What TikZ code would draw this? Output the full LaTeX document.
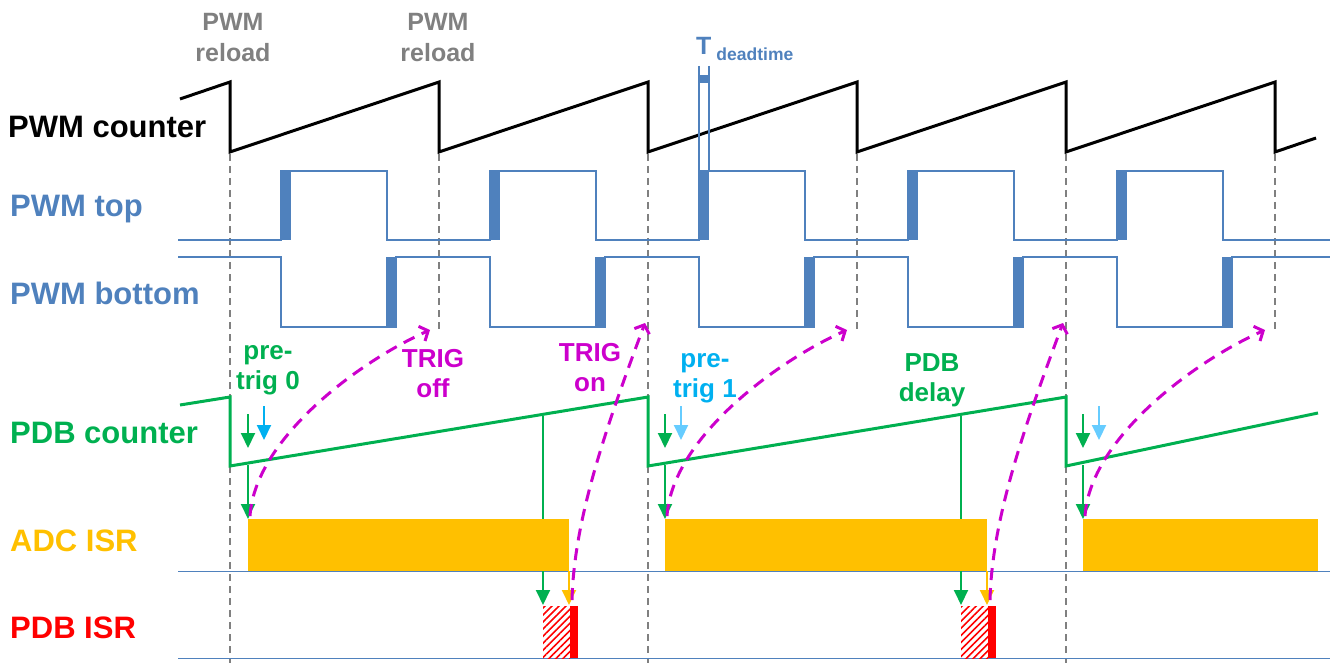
\documentclass[tikz,border=0pt]{standalone}
\usepackage{fontspec}
\setmainfont{Liberation Sans}
\usetikzlibrary{arrows.meta,patterns.meta}
\definecolor{pwmblue}{HTML}{4F81BD}
\definecolor{pdbgreen}{HTML}{00B050}
\definecolor{adcorange}{HTML}{FFC000}
\definecolor{trigmag}{HTML}{CC00CC}
\definecolor{trigcyan}{HTML}{00B0F0}
\definecolor{triglight}{HTML}{66CCFF}
\definecolor{reloadgray}{HTML}{808080}
\tikzset{
    %Define standard arrow tip
    >={Triangle[length=15pt 0,width=14pt 0]},
    %Define style for signal names
    signavn/.style={
           anchor=base west,
           inner sep=0pt,
           font=\fontsize{31}{36}\selectfont\bfseries},
    %Define style for event labels
    merke/.style={
           align=center,
           inner sep=0pt,
           font=\fontsize{26}{30}\selectfont\bfseries},
    % Define line styles
    teller/.style={line width=3pt, line join=miter},
    puls/.style={pwmblue, line width=2pt},
    reload/.style={reloadgray, line width=1.5pt, dash pattern=on 7pt off 5pt},
    % Define arrow styles
    sigpil/.style={->, line width=2pt},
    trigpil/.style={
           trigmag,
           line width=3pt,
           dash pattern=on 12pt off 8pt,
           -{Straight Barb[length=7pt,width=16pt]}}
}

\begin{document}
\begin{tikzpicture}[x=1pt,y=-1pt]
  \useasboundingbox (0,0) rectangle (1330,663);
  % signal names
  \node[signavn] (pwmcnt) at (8,138) {PWM counter};
  \node[signavn,text=pwmblue] (pwmtop) at (10,217) {PWM top};
  \node[signavn,text=pwmblue] (pwmbot) at (10,304) {PWM bottom};
  \node[signavn,text=pdbgreen] (pdbcnt) at (10,443) {PDB counter};
  \node[signavn,text=adcorange] (adcisr) at (10,551) {ADC ISR};
  \node[signavn,text=red] (pdbisr) at (10,638) {PDB ISR};
  % reload marks
  \node[merke,text=reloadgray,font=\fontsize{25}{31}\selectfont\bfseries] (reload0) at (233,38) {PWM\\reload};
  \node[merke,text=reloadgray,font=\fontsize{25}{31}\selectfont\bfseries] (reload1) at (438,38) {PWM\\reload};
  \foreach \k in {0,2,4}
    \draw[reload] (230+209*\k,154) -- (230+209*\k,663);
  \foreach \k in {1,3,5}
    \draw[reload] (230+209*\k,154) -- (230+209*\k,330);
  % ISR base lines
  \draw[pwmblue] (178,571) -- (1330,571) (178,658) -- (1330,658);
  % PWM counter
  \draw[teller] (180,99) \foreach \k in {0,...,5}
    {-- (230+209*\k,82) -- (230+209*\k,152)} -- (1316,138);
  % PWM top and bottom
  \draw[puls] (178,240) \foreach \k in {0,...,4}
    {-- (281+209*\k,240) -- (281+209*\k,171) -- (387+209*\k,171) -- (387+209*\k,240)}
    -- (1330,240);
  \draw[puls] (178,257) \foreach \k in {0,...,4}
    {-- (281+209*\k,257) -- (281+209*\k,327) -- (396+209*\k,327) -- (396+209*\k,257)}
    -- (1330,257);
  \foreach \k in {0,...,4} {
    \fill[pwmblue] (281+209*\k,171) rectangle (291+209*\k,240);
    \fill[pwmblue] (386+209*\k,257) rectangle (396+209*\k,327);
  }
  % dead time
  \draw[pwmblue,line width=1.2pt] (699,66) -- (699,171) (709,66) -- (709,171);
  \fill[pwmblue] (699,75) rectangle (709,83);
  \node[anchor=base west,inner sep=0pt,text=pwmblue,font=\fontsize{25}{25}\selectfont\bfseries]
    (tdead) at (696,55) {T\kern5pt\raisebox{-6pt}{\fontsize{17.5}{17.5}\selectfont deadtime}};
  % PDB counter
  \draw[teller,pdbgreen] (180,405) \foreach \k in {0,1,2}
    {-- (230+418*\k,397) -- (230+418*\k,466)} -- (1318,413);
  % pre-triggers
  \foreach \i/\x/\c in {1/248/trigcyan,2/665/triglight,3/1083/triglight} {
    \coordinate (gs\i) at (\x,414);
    \coordinate (ge\i) at (\x,448);
    \coordinate (bs\i) at (\x+16,406);
    \coordinate (be\i) at (\x+16,440);
    \coordinate (cnt\i) at (\x,465);
    \coordinate (adc\i) at (\x,519);
    \draw[sigpil,pdbgreen] (gs\i) -- (ge\i);
    \draw[sigpil,\c] (bs\i) -- (be\i);
    \draw[sigpil,pdbgreen] (cnt\i) -- (adc\i);
  }
  % PDB delay
  \foreach \i/\x in {1/543,2/961} {
    \coordinate (dly\i) at (\x,416);
    \coordinate (isr\i) at (\x,605);
    \draw[sigpil,pdbgreen] (dly\i) -- (isr\i);
  }
  % ADC ISR
  \fill[adcorange] (248,519) rectangle (569,571);
  \fill[adcorange] (665,519) rectangle (987,571);
  \fill[adcorange] (1083,519) rectangle (1318,571);
  % PDB ISR
  \foreach \i/\x in {1/570,2/988} {
    \fill[pattern={Lines[angle=45,distance=5pt,line width=1.6pt]},pattern color=red]
      (\x-27,606) rectangle (\x,658);
    \fill[red] (\x,606) rectangle (\x+8,658);
    \coordinate (end\i) at (\x-1,571);
    \coordinate (red\i) at (\x-1,605);
    \draw[sigpil,adcorange] (end\i) -- (red\i);
  }
  % TRIG off / on
  \foreach \i/\x in {1/250,2/667,3/1085} {
    \coordinate (ts\i) at (\x,516);
    \coordinate (toff\i) at (\x+180,330);
    \draw[trigpil] (ts\i) .. controls +(5,-77) and +(-72,32) .. (toff\i);
  }
  \foreach \i/\x in {1/572,2/990} {
    \coordinate (os\i) at (\x,600);
    \coordinate (ton\i) at (\x+73,323);
    \draw[trigpil] (os\i) .. controls +(2,-80) and +(-40,107) .. (ton\i);
  }
  % event labels
  \node[merke,text=pdbgreen] (pretrig0) at (268,370) {pre-\\trig 0};
  \node[merke,text=trigmag] (trigoff) at (433,374) {TRIG\\off};
  \node[merke,text=trigmag] (trigon) at (590,368) {TRIG\\on};
  \node[merke,text=trigcyan] (pretrig1) at (705,378) {pre-\\trig 1};
  \node[merke,text=pdbgreen] (pdbdly) at (932,380) {PDB\\delay};
\end{tikzpicture}
\end{document}
